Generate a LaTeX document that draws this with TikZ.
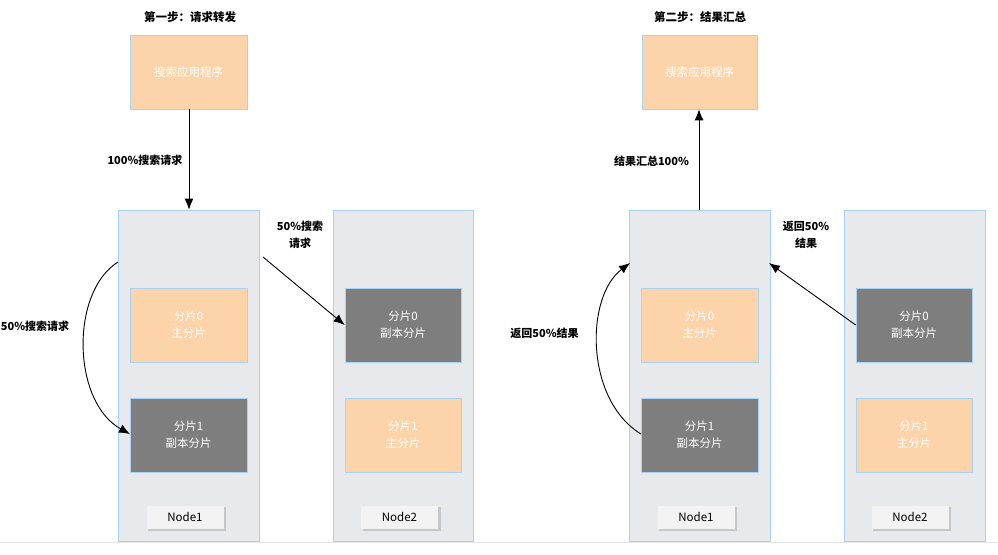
\documentclass[tikz,border=0pt]{standalone}
\usepackage{fontspec}
\setmainfont{Noto Sans CJK SC}
\usetikzlibrary{arrows.meta}
\definecolor{peach}{HTML}{FDD4AA}
\definecolor{shardgray}{HTML}{7E7E7E}
\definecolor{contfill}{HTML}{E8E9EC}
\definecolor{bluebord}{HTML}{A9D1F2}
\definecolor{btnfill}{HTML}{F3F3F4}
\tikzset{
  container/.style={draw=bluebord, line width=0.7pt, fill=contfill, minimum width=141pt, minimum height=331pt, inner sep=0pt},
  appbox/.style={draw=bluebord, line width=0.6pt, fill=peach, minimum width=117pt, minimum height=74pt, text=white, font=\fontsize{11.5}{13}\selectfont, inner sep=0pt},
  primary/.style={draw=bluebord, line width=0.6pt, fill=peach, minimum width=117pt, minimum height=74pt, text=white, font=\fontsize{11.5}{17}\selectfont, align=center, inner sep=0pt},
  replica/.style={draw=bluebord, line width=0.6pt, fill=shardgray, minimum width=117pt, minimum height=74pt, text=white, font=\fontsize{11.5}{17}\selectfont, align=center, inner sep=0pt},
  btnshadow/.style={fill=black!22, minimum width=78pt, minimum height=24pt, inner sep=0pt},
  btn/.style={fill=btnfill, minimum width=77pt, minimum height=23pt, inner sep=0pt, font=\fontsize{11.5}{13}\selectfont},
  lbl/.style={font=\fontsize{11}{17}\selectfont\bfseries, align=center, inner sep=0pt},
  titl/.style={font=\fontsize{11.5}{14}\selectfont\bfseries, inner sep=0pt},
  arr/.style={-{Latex[length=11pt,width=9pt]}, line width=0.9pt, black},
}
\begin{document}
\begin{tikzpicture}[x=1pt,y=-1pt]
\useasboundingbox (0,0) rectangle (998,554);
\fill[white] (0,0) rectangle (998,554);
\draw[black!10, line width=0.8pt] (0,542) -- (998,542);

% ---------- left: step 1 ----------
\node[titl] (title1) at (190,17) {第一步：请求转发};
\node[appbox] (app1) at (188.5,72) {搜索应用程序};
\node[container] (n1) at (188.5,375.5) {};
\node[primary] (s10) at (188.5,325) {分片0\\主分片};
\node[replica] (s11) at (188.5,435) {分片1\\副本分片};
\node[btnshadow] (b1s) at (187,519) {};
\node[btn] (b1) at (185,517) {Node1};

\node[container, minimum width=140pt] (n2) at (403,375.5) {};
\node[replica, minimum width=116pt] (s20) at (403,325) {分片0\\副本分片};
\node[primary, minimum width=116pt] (s21) at (403,435) {分片1\\主分片};
\node[btnshadow] (b2s) at (401.5,519) {};
\node[btn] (b2) at (399.5,517) {Node2};

\draw[arr] (app1.south -| 189,0) -- (n1.north -| 189,0);
\node[lbl] (l1) at (145,160) {100\%搜索请求};

\coordinate (c1) at (263,257);
\draw[arr] (c1) -- (s20.west);
\node[lbl] (l2) at (300,235) {50\%搜索\\请求};

\coordinate (c2) at (118,262);
\coordinate (c3) at (130,434);
\draw[arr] (c2) .. controls (70,292) and (72,402) .. (c3);
\node[lbl] (l3) at (35,326) {50\%搜索请求};

% ---------- right: step 2 ----------
\node[titl] (title2) at (700,17) {第二步：结果汇总};
\node[appbox, minimum width=115pt] (app2) at (699.5,72) {搜索应用程序};
\node[container] (m1) at (699.5,375.5) {};
\node[primary] (t10) at (699.5,325) {分片0\\主分片};
\node[replica] (t11) at (699.5,435) {分片1\\副本分片};
\node[btnshadow] (b3s) at (698,519) {};
\node[btn] (b3) at (696,517) {Node1};

\node[container] (m2) at (914.5,375.5) {};
\node[replica, minimum width=116pt] (t20) at (914,325) {分片0\\副本分片};
\node[primary, minimum width=116pt] (t21) at (914,435) {分片1\\主分片};
\node[btnshadow] (b4s) at (912,519) {};
\node[btn] (b4) at (910,517) {Node2};

\draw[arr] (m1.north -| 699,0) -- (app2.south -| 699,0);
\node[lbl] (l4) at (651.5,161) {结果汇总100\%};

\coordinate (d1) at (769,263);
\draw[arr] (t20.west) -- (d1);
\node[lbl] (l5) at (806,235) {返回50\%\\结果};

\coordinate (d2) at (641,434);
\coordinate (d3) at (630,263);
\draw[arr] (d2) .. controls (585,400) and (585,297) .. (d3);
\node[lbl] (l6) at (544.5,333) {返回50\%结果};
\end{tikzpicture}
\end{document}
